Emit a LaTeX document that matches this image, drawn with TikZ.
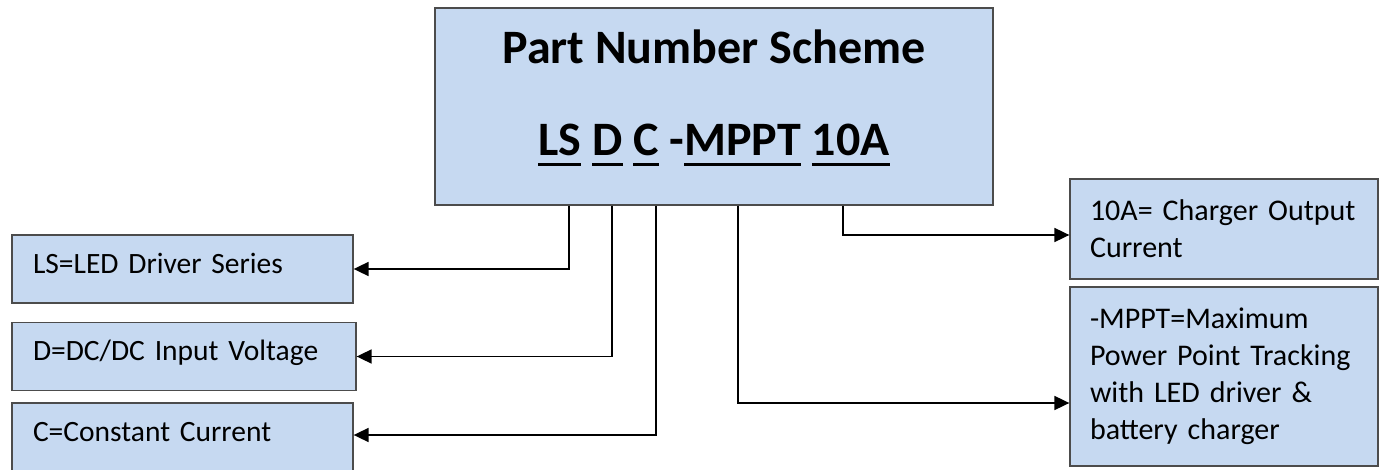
\documentclass[tikz,border=0pt]{standalone}
\usepackage{fontspec}
\setmainfont{Carlito}
\usetikzlibrary{arrows.meta}
\definecolor{boxblue}{RGB}{198,217,241}
% thick underline under one part of the code
\newcommand{\pnul}[1]{\setbox0\hbox{#1}\rlap{\vrule height -7pt depth 10.5pt width \wd0}\box0\relax}

\begin{document}
\begin{tikzpicture}[
  x=1pt, y=-1pt,
  >={Triangle[length=15pt,width=14pt]},
  box/.style={draw=black!70, line width=1.3pt, fill=boxblue},
  leftbox/.style={box, minimum height=68pt, inner xsep=21pt, text width=299pt, align=left,
    text height=20pt, text depth=12pt, font=\fontsize{29.5}{36}\selectfont},
  rightbox/.style={box, inner xsep=20pt, text width=268pt, align=left,
    font=\fontsize{30}{37}\selectfont},
  head/.style={font=\fontsize{48}{55}\selectfont\bfseries, anchor=base, inner sep=0pt},
  link/.style={->, line width=1.8pt}
]
\useasboundingbox (0,0) rectangle (1383,470);

% Scheme box
\node[box, minimum width=558pt, minimum height=197pt] (main) at (714,106.5) {};
\node[head] (title) at (714,64) {Part Number Scheme};
\node[head] (code) at (714,156) {\pnul{LS} \pnul{D} \pnul{C} -\pnul{MPPT} \pnul{10A}};

% Meaning of each part
\node[leftbox] (ls) at (182.5,269) {LS=LED Driver Series};
\node[leftbox, text width=302pt] (dc) at (184,356.5) {D=DC/DC Input Voltage};
\node[leftbox, minimum height=69pt] (cc) at (182.5,437.5) {C=Constant Current};
\node[rightbox, minimum height=100pt] (amp) at (1224,229) {10A= Charger Output\\Current};
\node[rightbox, minimum height=179pt] (mppt) at (1224,376.5)
  {-MPPT=Maximum\\Power Point Tracking\\with LED driver \&\\battery charger};

% Taps under the code
\coordinate (tapLS) at (569,0);
\coordinate (tapD) at (612,0);
\coordinate (tapC) at (656,0);
\coordinate (tapMPPT) at (738,0);
\coordinate (tapA) at (843,0);

\draw[link] (main.south -| tapLS) |- (ls.east);
\draw[link] (main.south -| tapD) |- (dc.east);
\draw[link] (main.south -| tapC) |- ([yshift=2.5pt]cc.east);
\draw[link] (main.south -| tapA) |- ([yshift=-6pt]amp.west);
\draw[link] (main.south -| tapMPPT) |- ([yshift=-26.5pt]mppt.west);

\end{tikzpicture}
\end{document}
